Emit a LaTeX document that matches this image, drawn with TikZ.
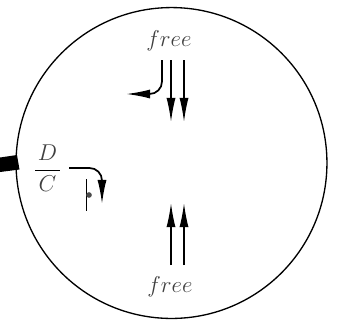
\documentclass[tikz,border=0pt]{standalone}
\usetikzlibrary{arrows.meta}
\begin{document}
\begin{tikzpicture}[
x=0.0265cm,
y=-0.0265cm,
every node/.style={
inner sep=0pt,
text=black!75,
font=\fontsize{16}{19}\selectfont
},
flow/.style={
line width=1.1pt,
-{Latex[length=0.64cm,width=0.24cm]}
},
curved/.style={
flow,
line width=1.3pt,
rounded corners=0.33cm
}
]

\useasboundingbox (0,0) rectangle (339,327);

\node[draw,circle,line width=1pt,minimum size=8.24cm] (wafer) at (171.5,163) {};
\fill (0,157.5) -- (17,155) -- (19.5,169.5) -- (0,172) -- cycle;

\node (freeT) at (169,41) {$free$};
\node (freeB) at (170,287) {$free$};
\node[text=black] (ratio) at (47.5,168) {$\displaystyle\frac{\hspace{2pt}\textcolor{black!75}{D}\hspace{2pt}}{\textcolor{black!75}{C}}$};

% top arrows
\coordinate (a1) at (171,60);
\coordinate (a2) at (171,122);
\coordinate (b1) at (184,60);
\coordinate (b2) at (184,122);
\draw[flow] (a1) -- (a2);
\draw[flow] (b1) -- (b2);

\coordinate (c1) at (162,60);
\coordinate (c2) at (162,94);
\coordinate (c3) at (126,94);
\draw[curved] (c1) -- (c2) -- (c3);

% bottom arrows
\coordinate (d1) at (171,265);
\coordinate (d2) at (171,203);
\coordinate (e1) at (184,265);
\coordinate (e2) at (184,203);
\draw[flow] (d1) -- (d2);
\draw[flow] (e1) -- (e2);

% left part
\coordinate (f1) at (69,168);
\coordinate (f2) at (102,168);
\coordinate (f3) at (102,204);
\draw[curved] (f1) -- (f2) -- (f3);

\coordinate (g1) at (86,179);
\coordinate (g2) at (86,211);
\draw[line width=0.7pt] (g1) -- (g2);
\node[circle,fill=black!70,minimum size=0.15cm] (dot) at (89,195) {};

\end{tikzpicture}
\end{document}
